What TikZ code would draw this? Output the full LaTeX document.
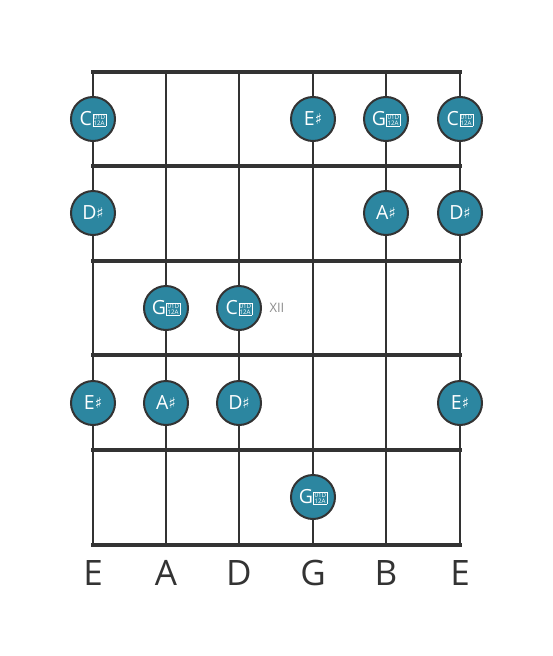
\documentclass[tikz,border=0pt]{standalone}
\usepackage{fontspec}
\setmainfont{Open Sans}
\newfontfamily\symfont{DejaVu Sans}
\usetikzlibrary{positioning}

\definecolor{fretgray}{RGB}{51,51,51}
\definecolor{dotblue}{RGB}{44,134,160}
\definecolor{markgray}{RGB}{140,140,140}

\newcommand{\shp}{{\symfont\fontsize{15}{15}\selectfont\raisebox{1pt}{♯}}}
\newcommand{\dsh}{\hspace{0.5pt}\raisebox{0.3pt}{\setlength{\fboxsep}{0.5pt}\setlength{\fboxrule}{0.55pt}\fbox{\vbox{\fontsize{6.2}{6.1}\selectfont\hbox{01D}\hbox{12A}}}}}

\tikzset{
  note/.style = {circle, draw = fretgray, line width = 2pt, fill = dotblue, text = white,
    minimum size = 44pt, inner sep = 0pt, font = \fontsize{19.5}{19.5}\selectfont},
  string/.style = {draw = fretgray, line width = 2.6pt},
  fret/.style = {draw = fretgray, line width = 4.5pt, line cap = rect},
  tuning/.style = {text = fretgray, font = \fontsize{35}{35}\selectfont}
}

\begin{document}
\begin{tikzpicture}[x = 1pt, y = -1pt]

		\useasboundingbox (0,0) rectangle (553,656);

		% string ends
		\coordinate (s1t) at (93,72);   \coordinate (s1b) at (93,545);
		\coordinate (s2t) at (166,72);  \coordinate (s2b) at (166,545);
		\coordinate (s3t) at (239,72);  \coordinate (s3b) at (239,545);
		\coordinate (s4t) at (313,72);  \coordinate (s4b) at (313,545);
		\coordinate (s5t) at (386,72);  \coordinate (s5b) at (386,545);
		\coordinate (s6t) at (460,72);  \coordinate (s6b) at (460,545);

		% fret ends
		\coordinate (f1l) at (93,166);  \coordinate (f1r) at (460,166);
		\coordinate (f2l) at (93,261);  \coordinate (f2r) at (460,261);
		\coordinate (f3l) at (93,355);  \coordinate (f3r) at (460,355);
		\coordinate (f4l) at (93,450);  \coordinate (f4r) at (460,450);

		\path[string]
		(s1t) -- (s1b)
		(s2t) -- (s2b)
		(s3t) -- (s3b)
		(s4t) -- (s4b)
		(s5t) -- (s5b)
		(s6t) -- (s6b)
		;

		\path[fret]
		(s1t) -- (s6t)
		(f1l) -- (f1r)
		(f2l) -- (f2r)
		(f3l) -- (f3r)
		(f4l) -- (f4r)
		(s1b) -- (s6b)
		;

		% notes
		\node[note] at (93,119) (c1) {C\dsh};
		\node[note] at (313,119) (e1) {E\shp};
		\node[note] at (386,119) (g1) {G\dsh};
		\node[note] at (460,119) (c2) {C\dsh};

		\node[note] at (93,213) (d1) {D\shp};
		\node[note] at (386,213) (a1) {A\shp};
		\node[note] at (460,213) (d2) {D\shp};

		\node[note] at (166,308) (g2) {G\dsh};
		\node[note] at (239,308) (c3) {C\dsh};
		\node[right = 4pt of c3, text = markgray, font = \fontsize{13}{13}\selectfont] (xii) {XII};

		\node[note] at (93,403) (e2) {E\shp};
		\node[note] at (166,403) (a2) {A\shp};
		\node[note] at (239,403) (d3) {D\shp};
		\node[note] at (460,403) (e3) {E\shp};

		\node[note] at (313,497) (g3) {G\dsh};

		% tuning
		\node[tuning] at (93,573) (te1) {E};
		\node[tuning] at (166,573) (ta) {A};
		\node[tuning] at (239,573) (td) {D};
		\node[tuning] at (313,573) (tg) {G};
		\node[tuning] at (386,573) (tb) {B};
		\node[tuning] at (460,573) (te2) {E};

\end{tikzpicture}
\end{document}
